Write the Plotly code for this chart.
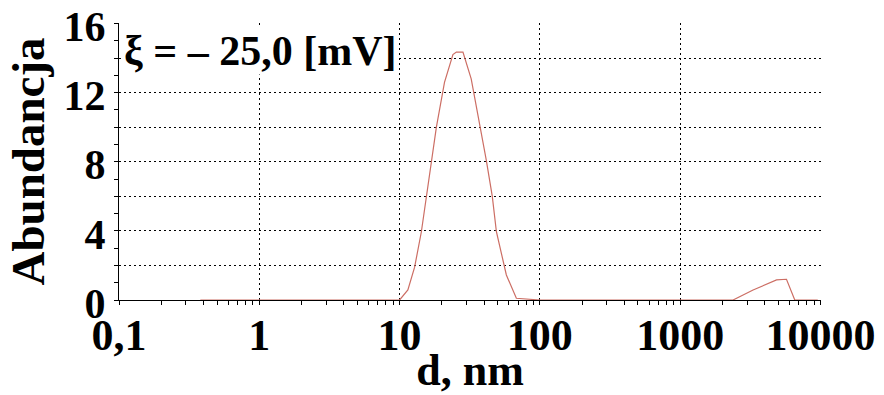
import plotly.graph_objects as go

# Size distribution
d_nm = [0.38, 1.0, 3.0, 10.0, 11.46, 12.8, 14.3, 15.5, 16.8, 18.3, 20.9, 24.0, 25.4,
        28.3, 32.4, 37.2, 41.5, 45.8, 49.0, 57.7, 68.0, 100.0, 500.0, 1000.0, 2383.0,
        3311.0, 4864.0, 5727.0, 6563.0, 9570.0]
abundance = [0.0, 0.0, 0.0, 0.0, 0.58, 1.9, 3.95, 5.9, 7.9, 10.0, 12.6, 14.2, 14.35,
             14.35, 12.8, 10.2, 8.1, 6.0, 3.95, 1.45, 0.1, 0.0, 0.0, 0.0, 0.0,
             0.58, 1.16, 1.2, 0.0, 0.0]

x_tickvals = [0.1, 1, 10, 100, 1000, 10000]
x_ticktext = ["0,1", "1", "10", "100", "1000", "10000"]
y_tickvals = [0, 2, 4, 6, 8, 10, 12, 14, 16]
y_ticktext = ["0", "", "4", "", "8", "", "12", "", "16"]

font_family = "Liberation Serif"

fig = go.Figure()
fig.add_trace(go.Scatter(x=d_nm, y=abundance, mode="lines",
                         line=dict(color="#cc6e64", width=1.2),
                         showlegend=False, hoverinfo="skip"))

fig.update_layout(
    width=884, height=395,
    margin=dict(l=119, r=63, t=23, b=95),
    paper_bgcolor="white", plot_bgcolor="white",
    font=dict(family=font_family, color="black"),
    xaxis=dict(
        type="log", range=[-1, 4.004], automargin=False, layer="below traces",
        tickvals=x_tickvals, ticktext=x_ticktext,
        tickfont=dict(family=font_family, size=44, color="black", weight="bold"),
        ticklabeloverflow="allow", ticklabelstandoff=-8,
        showgrid=True, gridcolor="black", gridwidth=1.3, griddash="2px,3px",
        showline=True, linecolor="black", linewidth=1.2,
        ticks="outside", ticklen=4, tickcolor="black",
        minor=dict(ticks="outside", ticklen=4, tickcolor="black", dtick="D1", showgrid=False),
        zeroline=False,
        title=dict(text="d, nm", standoff=0,
                   font=dict(family=font_family, size=44, color="black", weight="bold")),
    ),
    yaxis=dict(
        range=[0, 16.03], automargin=False,
        tickvals=y_tickvals, ticktext=y_ticktext,
        tickfont=dict(family=font_family, size=42, color="black", weight="bold"),
        ticklabeloverflow="allow", ticklabelshift=3,
        showgrid=True, gridcolor="black", gridwidth=1.3, griddash="2px,3px",
        showline=True, linecolor="black", linewidth=1.2,
        ticks="outside", ticklen=4, tickcolor="black",
        minor=dict(ticks="outside", ticklen=4, tickcolor="black", dtick=1, showgrid=False),
        zeroline=False,
        title=dict(text="Abundancja", standoff=4,
                   font=dict(family=font_family, size=47, color="black", weight="bold")),
    ),
    annotations=[dict(
        text="ξ = – 25,0 [mV]", xref="paper", yref="paper", x=0.006, y=0.90,
        xanchor="left", yanchor="middle", showarrow=False,
        font=dict(family=font_family, size=42, color="black", weight="bold"),
        bgcolor="white", borderpad=0,
    )],
)

fig.write_html("out.html", config={"displayModeBar": False},
               post_script="document.body.style.margin='0';")
